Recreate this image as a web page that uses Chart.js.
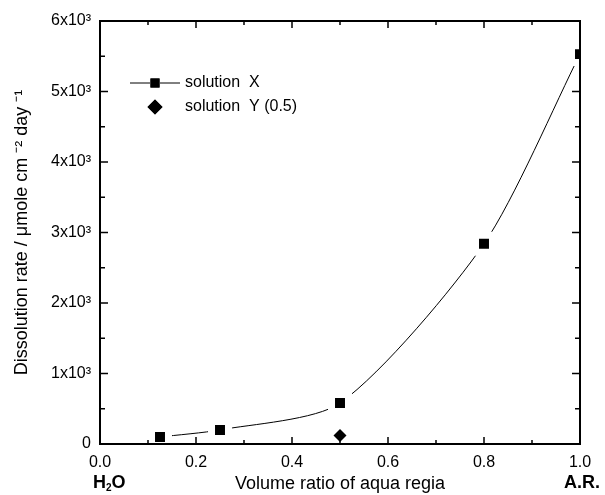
<!DOCTYPE html>
<html>
<head>
<meta charset="utf-8">
<script src="https://cdn.jsdelivr.net/npm/chart.js@4.4.1/dist/chart.umd.min.js"></script>
<style>
  body { margin: 0; background: #fff; }
  canvas { display: block; }
</style>
</head>
<body>
<canvas id="rateChart" width="605" height="495"></canvas>
<script>
// values
const ratioX = [0.125, 0.25, 0.5, 0.8, 1.0];
const rateX = [100, 200, 580, 2840, 5530];
const ratioY = [0.5];
const rateY = [120];
const seriesNames = ['solution  X', 'solution  Y (0.5)'];
const yTickLabels = ['0', '1x10³', '2x10³', '3x10³', '4x10³', '5x10³', '6x10³'];

const FONT = "'Liberation Sans', Arial, sans-serif";

// box, inward ticks, legend and the H2O / A.R. end labels
const decorations = {
  id: 'decorations',
  afterDraw(chart) {
    const { ctx, chartArea: a, scales: { x, y } } = chart;
    ctx.save();
    ctx.strokeStyle = '#000';
    ctx.lineWidth = 1.5;
    ctx.beginPath();
    for (let i = 1; i < 10; i++) {
      const px = x.getPixelForValue(i / 10);
      const len = i % 2 === 0 ? 7 : 4;
      ctx.moveTo(px, a.bottom); ctx.lineTo(px, a.bottom - len);
      ctx.moveTo(px, a.top); ctx.lineTo(px, a.top + len);
    }
    for (let i = 1; i < 12; i++) {
      const py = y.getPixelForValue(i * 500);
      const len = i % 2 === 0 ? 8 : 5;
      ctx.moveTo(a.left, py); ctx.lineTo(a.left + len, py);
      ctx.moveTo(a.right, py); ctx.lineTo(a.right - len, py);
    }
    ctx.stroke();

    ctx.lineWidth = 2;
    ctx.strokeRect(a.left, a.top, a.width, a.height);

    // legend
    ctx.lineWidth = 1;
    ctx.beginPath();
    ctx.moveTo(130, 83); ctx.lineTo(150, 83);
    ctx.moveTo(160, 83); ctx.lineTo(180, 83);
    ctx.stroke();
    ctx.fillStyle = '#000';
    Chart.helpers.drawPoint(ctx, { pointStyle: 'rect', radius: 6.4, borderWidth: 0, rotation: 0 }, 155, 83);
    ctx.fill();
    Chart.helpers.drawPoint(ctx, { pointStyle: 'rectRot', radius: 7.5, borderWidth: 0, rotation: 0 }, 155, 107);
    ctx.fill();
    ctx.font = '16px ' + FONT;
    ctx.textBaseline = 'middle';
    ctx.textAlign = 'left';
    ctx.fillText(seriesNames[0], 185, 83);
    ctx.fillText(seriesNames[1], 185, 107);

    // H2O under 0.0, A.R. under 1.0
    ctx.font = 'bold 18px ' + FONT;
    ctx.textBaseline = 'alphabetic';
    const base = 488;
    let cx = 93;
    ctx.fillText('H', cx, base);
    cx += ctx.measureText('H').width;
    ctx.font = 'bold 10px ' + FONT;
    ctx.fillText('2', cx, base + 3);
    cx += ctx.measureText('2').width;
    ctx.font = 'bold 18px ' + FONT;
    ctx.fillText('O', cx, base);
    ctx.fillText('A.R.', 564, base);
    ctx.restore();
  }
};

const ctx = document.getElementById('rateChart').getContext('2d');
const rateChart = new Chart(ctx, {
  type: 'line',
  data: {
    datasets: [
      {
        label: seriesNames[0],
        data: ratioX.map((v, i) => ({ x: v, y: rateX[i] })),
        borderColor: '#000',
        borderWidth: 1,
        tension: 0.25,
        pointStyle: 'rect',
        pointRadius: 12,
        pointBackgroundColor: '#000',
        pointBorderColor: '#fff',
        pointBorderWidth: 7,
        clip: 0
      },
      {
        label: seriesNames[1],
        data: ratioY.map((v, i) => ({ x: v, y: rateY[i] })),
        showLine: false,
        pointStyle: 'rectRot',
        pointRadius: 6.5,
        pointBackgroundColor: '#000',
        pointBorderWidth: 0,
        clip: 0
      }
    ]
  },
  options: {
    responsive: false,
    animation: false,
    events: [],
    layout: { padding: { top: 21, right: 25, left: 0, bottom: 0 } },
    plugins: {
      legend: { display: false },
      tooltip: { enabled: false }
    },
    scales: {
      x: {
        type: 'linear',
        min: 0,
        max: 1,
        grid: { display: false, drawTicks: false },
        border: { display: false },
        ticks: {
          stepSize: 0.2,
          padding: 9,
          color: '#000',
          font: { family: FONT, size: 16 },
          callback: (v) => v.toFixed(1)
        },
        title: {
          display: true,
          text: 'Volume ratio of aqua regia',
          color: '#000',
          font: { family: FONT, size: 18 },
          padding: { top: 0, bottom: 0 }
        },
        afterFit: (scale) => { scale.height = 51; }
      },
      y: {
        min: 0,
        max: 6000,
        grid: { display: false, drawTicks: false },
        border: { display: false },
        ticks: {
          stepSize: 1000,
          padding: 9,
          color: '#000',
          font: { family: FONT, size: 16 },
          callback: (v) => yTickLabels[Math.round(v / 1000)]
        },
        title: {
          display: true,
          text: 'Dissolution rate / μmole cm ⁻² day ⁻¹',
          color: '#000',
          font: { family: FONT, size: 18 },
          padding: { top: 11, bottom: 0 }
        },
        afterFit: (scale) => { scale.width = 100; }
      }
    }
  },
  plugins: [decorations]
});
</script>
</body>
</html>
